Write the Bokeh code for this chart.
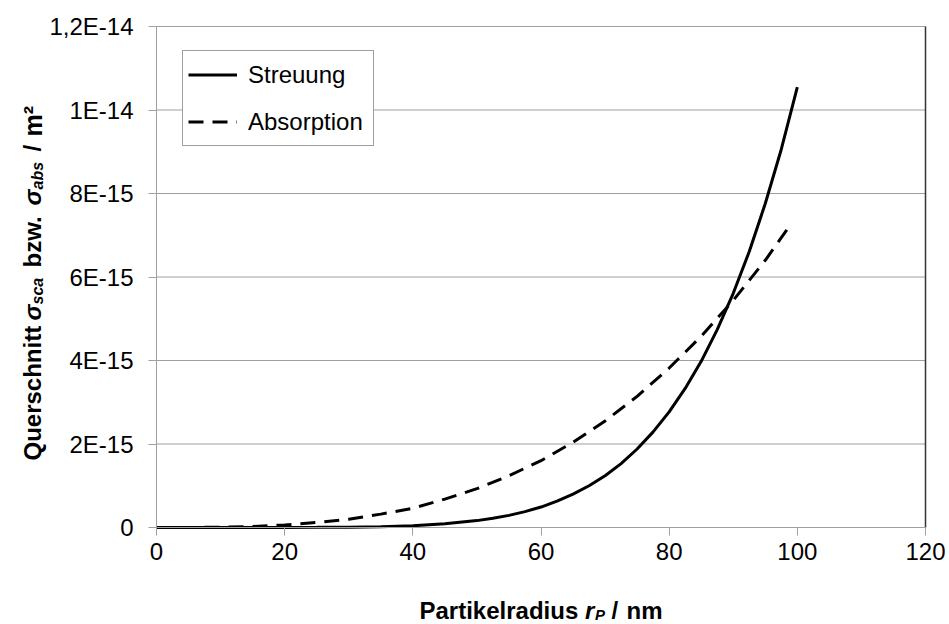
import math
from bokeh.plotting import figure
from bokeh.models import Range1d, FixedTicker, Label, Legend, LegendItem
from bokeh.embed import file_html
from bokeh.resources import INLINE

# ---------------- data ----------------
radius_sca = [0, 5, 10, 15, 20, 25, 30, 35, 40, 45, 50, 52.5, 55, 57.5, 60, 62.5, 65, 67.5,
              70, 72.5, 75, 77.5, 80, 82.5, 85, 87.5, 90, 92.5, 95, 97.5, 100]
# scattering cross-section in units of 1E-15 m^2
sigma_sca_e15 = [0, 0, 0.00001, 0.0001, 0.0007, 0.003, 0.008, 0.02, 0.04, 0.09, 0.165, 0.22,
                 0.29, 0.38, 0.49, 0.63, 0.80, 1.00, 1.24, 1.53, 1.88, 2.29, 2.77, 3.33,
                 3.98, 4.74, 5.61, 6.61, 7.76, 9.06, 10.55]
radius_abs = [0, 5, 10, 15, 20, 25, 30, 35, 40, 45, 50, 55, 60, 65, 70, 75, 80, 85, 90, 95, 99]
# absorption cross-section in units of 1E-15 m^2
sigma_abs_e15 = [0, 0.001, 0.007, 0.025, 0.06, 0.12, 0.20, 0.32, 0.46, 0.68, 0.93,
                 1.24, 1.60, 2.04, 2.55, 3.14, 3.82, 4.58, 5.44, 6.40, 7.27]
series_names = ["Streuung", "Absorption"]

x_ticks = [0, 20, 40, 60, 80, 100, 120]
y_ticks = [0, 2, 4, 6, 8, 10, 12]
y_tick_labels = ["0", "2E-15", "4E-15", "6E-15", "8E-15", "1E-14", "1,2E-14"]

FONT = "Liberation Sans"
GRID = "#a0a0a0"

# canvas geometry: the data area spans canvas x 156..925 and y 26..527
W, H = 949, 624
L, R, T, B = 156, 925, 26, 527
xs = (R - L) / (x_ticks[-1] - x_ticks[0])
ys = (B - T) / (y_ticks[-1] - y_ticks[0])
x_range = Range1d(x_ticks[0] - L / xs, x_ticks[-1] + (W - R) / xs)
y_range = Range1d(y_ticks[0] - (H - B) / ys, y_ticks[-1] + T / ys)

p = figure(width=W, height=H, output_backend="svg", toolbar_location=None,
           x_range=x_range, y_range=y_range, min_border=0)
p.outline_line_color = None
p.background_fill_color = "white"
p.border_fill_color = "white"
p.xgrid.visible = False
p.ygrid.visible = False

# horizontal gridlines at the y ticks, across the data area, plus right border
p.segment(x0=[x_ticks[0]] * len(y_ticks), x1=[x_ticks[-1]] * len(y_ticks),
          y0=y_ticks, y1=y_ticks, line_color=GRID, line_width=1, level="underlay")
p.segment(x0=[x_ticks[-1]], x1=[x_ticks[-1]], y0=[y_ticks[0]], y1=[y_ticks[-1]],
          line_color="#333333", line_width=1.5, level="underlay")

r_sca = p.line(radius_sca, sigma_sca_e15, line_color="black", line_width=3)
r_abs = p.line(radius_abs, sigma_abs_e15, line_color="black", line_width=3,
               line_dash="15 9")

# axes, drawn at the data origin
p.xaxis.ticker = FixedTicker(ticks=x_ticks)
p.yaxis.ticker = FixedTicker(ticks=y_ticks)
p.yaxis.major_label_overrides = {t: s for t, s in zip(y_ticks, y_tick_labels)}
p.xaxis.fixed_location = y_ticks[0]
p.yaxis.fixed_location = x_ticks[0]
p.xaxis.bounds = (x_ticks[0], x_ticks[-1])
p.yaxis.bounds = (y_ticks[0], y_ticks[-1])
for ax in (p.xaxis, p.yaxis):
    ax.axis_line_color = GRID
    ax.axis_line_width = 1
    ax.major_tick_line_color = GRID
    ax.major_tick_out = 8
    ax.major_tick_in = 0
    ax.minor_tick_out = 0
    ax.minor_tick_in = 0
    ax.major_label_text_font = FONT
    ax.major_label_text_font_size = "24px"
    ax.major_label_text_color = "black"
p.xaxis.major_label_standoff = 7
p.yaxis.major_label_standoff = 15

# legend (location in pixels from the bottom-left corner)
legend = Legend(items=[LegendItem(label=series_names[0], renderers=[r_sca]),
                       LegendItem(label=series_names[1], renderers=[r_abs])],
                location=(182, 478), orientation="vertical",
                label_text_font=FONT, label_text_font_size="24px",
                label_text_color="black",
                glyph_width=49, glyph_height=37, label_standoff=11,
                label_width=120, padding=5, spacing=10,
                border_line_color="#404040", border_line_width=1,
                background_fill_color="white", background_fill_alpha=1.0)
p.add_layout(legend)

# axis titles composed of text pieces (pixel offsets from the data origin)
y_title = [  # text, start (canvas y), baseline (canvas x), size, style
    ("Querschnitt", 460, 32, 24, "bold"),
    ("\u03c3", 320, 32, 24, "bold italic"),
    ("sca", 304, 37, 16, "bold italic"),
    ("bzw.", 267, 32, 24, "bold"),
    ("\u03c3", 205, 32, 24, "bold italic"),
    ("abs", 189, 37, 16, "bold italic"),
    ("/", 151, 32, 24, "bold"),
    ("m\u00b2", 136, 32, 25, "bold"),
]
for txt, sy, bx, size, style in y_title:
    p.add_layout(Label(x=x_ticks[0], y=y_ticks[0], x_units="data", y_units="data",
                       x_offset=bx - L, y_offset=B - sy,
                       text=txt, angle=math.pi / 2, text_align="left",
                       text_baseline="alphabetic", text_font=FONT,
                       text_font_size=f"{size}px", text_font_style=style,
                       text_color="black"))

x_title = [  # text, start (canvas x), baseline (canvas y), size, style
    ("Partikelradius", 419, 610, 24, "bold"),
    ("r", 584.5, 610, 24, "bold italic"),
    ("P", 594.5, 614, 15, "bold italic"),
    ("/", 611, 610, 24, "bold"),
    ("nm", 626, 610, 24, "bold"),
]
for txt, sx, by, size, style in x_title:
    p.add_layout(Label(x=x_ticks[0], y=y_ticks[0], x_units="data", y_units="data",
                       x_offset=sx - L, y_offset=B - by,
                       text=txt, text_align="left", text_baseline="alphabetic",
                       text_font=FONT, text_font_size=f"{size}px",
                       text_font_style=style, text_color="black"))

open("out.html", "w").write(file_html(p, INLINE))
